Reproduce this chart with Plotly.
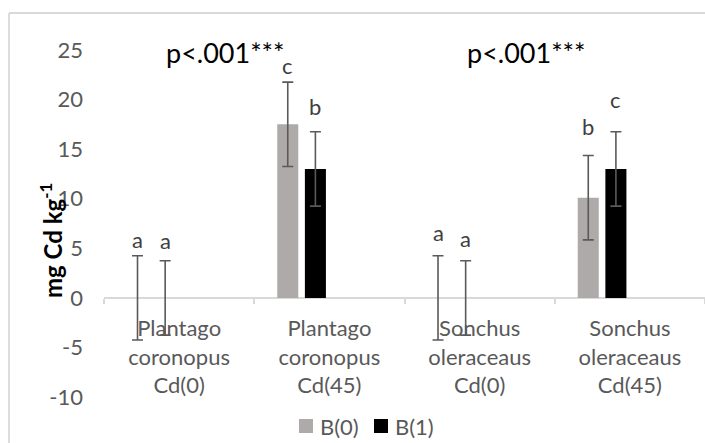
import plotly.graph_objects as go

# --- data -------------------------------------------------------------
categories = [
    "Plantago<br>coronopus<br>Cd(0)",
    "Plantago<br>coronopus<br>Cd(45)",
    "Sonchus<br>oleraceaus<br>Cd(0)",
    "Sonchus<br>oleraceaus<br>Cd(45)",
]
series_names = ["B(0)", "B(1)"]
b0_values = [0.0, 17.5, 0.0, 10.1]
b1_values = [0.0, 13.0, 0.0, 13.0]
b0_errors = [4.25, 4.25, 4.25, 4.25]
b1_errors = [3.75, 3.75, 3.75, 3.75]
b0_letters = ["a", "c", "a", "b"]
b1_letters = ["a", "b", "a", "c"]
p_labels = ["p<.001***", "p<.001***"]
y_ticks = [-10, -5, 0, 5, 10, 15, 20, 25]
y_tick_text = ["-10", "-5", "0", "5", "10", "15", "20", "25"]

# --- styling ----------------------------------------------------------
W, H = 705, 443
ML, MR, MT, MB = 104, 0, 30, 31
Y_RANGE = [-11.5, 27.0]
FONT = "Lato"
TICK_COLOR = "#595959"
LINE_COLOR = "#D9D9D9"
ERR_COLOR = "#5A5A5A"
COLORS = ["#AEAAAA", "#000000"]
FS = 22

BAR_W = 0.14
OFFSETS = [-0.347, -0.163]
# extra lift (px) of each significance letter above its whisker
lift_px = [[16, 17, 23, 29], [20, 25, 22, 32]]

plot_w = W - ML - MR
plot_h = H - MT - MB


def px_to_paper_x(px):
    return (px - ML) / plot_w


def px_to_paper_y(py):
    return (H - MB - py) / plot_h


zero_pos = (0 - Y_RANGE[0]) / (Y_RANGE[1] - Y_RANGE[0])

fig = go.Figure()
values = [b0_values, b1_values]
errors = [b0_errors, b1_errors]
letters = [b0_letters, b1_letters]

for s in range(2):
    fig.add_trace(go.Bar(
        x=categories,
        y=values[s],
        name=series_names[s],
        width=BAR_W,
        offset=OFFSETS[s],
        marker=dict(color=COLORS[s], line=dict(width=0)),
        error_y=dict(type="data", array=errors[s], visible=True,
                     color=ERR_COLOR, thickness=1.6, width=5.5),
        showlegend=False,
    ))
    for i in range(len(categories)):
        fig.add_annotation(
            x=i + OFFSETS[s] + BAR_W / 2,
            y=values[s][i] + errors[s][i],
            xref="x", yref="y",
            text=letters[s][i],
            showarrow=False,
            yanchor="middle",
            yshift=lift_px[s][i],
            font=dict(family=FONT, size=FS, color="#404040"),
        )

# significance headers between each pair of species groups
for k, lab in enumerate(p_labels):
    fig.add_annotation(
        x=2 * k + 0.31, y=24.7, xref="x", yref="y",
        text=lab, showarrow=False,
        font=dict(family=FONT, size=27, color="#000000"),
    )

# y axis title
fig.add_annotation(
    x=px_to_paper_x(33), y=px_to_paper_y(241), xref="paper", yref="paper",
    text="<b>mg Cd kg<sup>-1</sup></b>", textangle=-90, showarrow=False,
    font=dict(family=FONT, size=24, color="#000000"),
)

# legend drawn as swatches + labels
legend_items = [(299, 318), (374, 393)]
for s, (sx, tx) in enumerate(legend_items):
    fig.add_shape(
        type="rect", xref="paper", yref="paper",
        x0=px_to_paper_x(sx), x1=px_to_paper_x(sx + 14),
        y0=px_to_paper_y(433), y1=px_to_paper_y(419),
        fillcolor=COLORS[s], line=dict(width=0),
    )
    fig.add_annotation(
        x=px_to_paper_x(tx), y=px_to_paper_y(426), xref="paper", yref="paper",
        text=series_names[s], showarrow=False, xanchor="left", yanchor="middle",
        font=dict(family=FONT, size=FS, color=TICK_COLOR),
    )

# chart frame (top and left edges visible)
fig.add_shape(type="line", xref="paper", yref="paper",
              x0=px_to_paper_x(9), x1=px_to_paper_x(9),
              y0=px_to_paper_y(13), y1=px_to_paper_y(450),
              line=dict(color=LINE_COLOR, width=1.8))
fig.add_shape(type="line", xref="paper", yref="paper",
              x0=px_to_paper_x(9), x1=px_to_paper_x(712),
              y0=px_to_paper_y(13), y1=px_to_paper_y(13),
              line=dict(color=LINE_COLOR, width=1.8))

fig.update_layout(
    width=W, height=H,
    margin=dict(l=ML, r=MR, t=MT, b=MB, pad=0),
    barmode="overlay",
    plot_bgcolor="white", paper_bgcolor="white",
    font=dict(family=FONT, size=FS, color=TICK_COLOR),
    xaxis=dict(
        type="category",
        anchor="free", position=zero_pos,
        showline=True, linecolor=LINE_COLOR, linewidth=1.6,
        ticks="outside", tickson="boundaries", ticklen=5,
        tickcolor=LINE_COLOR, tickwidth=1.6,
        showgrid=False, zeroline=False,
        ticklabelstandoff=11,
        layer="below traces",
        tickfont=dict(family=FONT, size=FS, color=TICK_COLOR),
    ),
    yaxis=dict(
        range=Y_RANGE, tickvals=y_ticks, ticktext=y_tick_text,
        showgrid=False, zeroline=False, showline=False,
        ticks="", ticklabelstandoff=20,
        tickfont=dict(family=FONT, size=FS, color=TICK_COLOR),
    ),
)

fig.write_html("out.html")
